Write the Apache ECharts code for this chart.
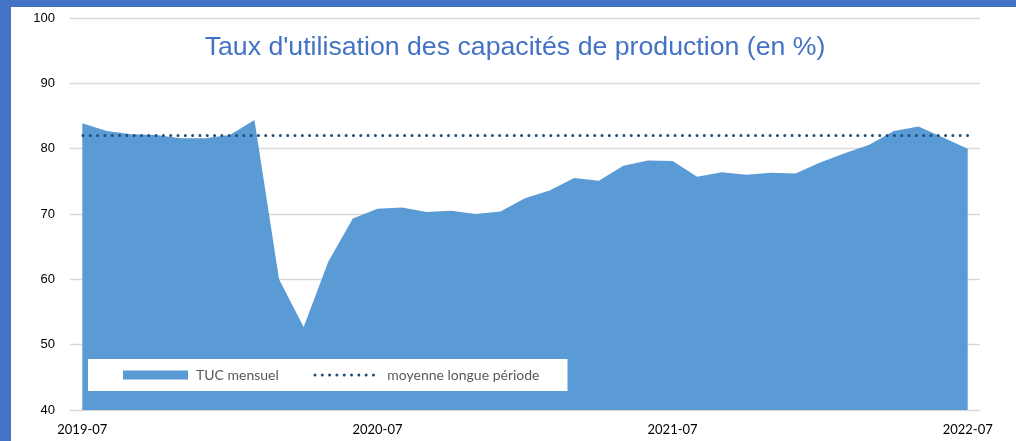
<!DOCTYPE html>
<html><head><meta charset="utf-8">
<script src="https://cdn.jsdelivr.net/npm/echarts@6/dist/echarts.min.js"></script>
<style>
html,body{margin:0;padding:0;background:#fff;}
#c{width:1016px;height:441px;position:absolute;left:0;top:0;}
.bt{position:absolute;left:0;top:0;width:1016px;height:7px;background:#4472C4;}
.bl{position:absolute;left:0;top:0;width:11px;height:441px;background:#4472C4;}
</style></head>
<body>
<div id="c"></div>
<div class="bt"></div><div class="bl"></div>
<script>
const months = ['2019-07','2019-08','2019-09','2019-10','2019-11','2019-12',
 '2020-01','2020-02','2020-03','2020-04','2020-05','2020-06',
 '2020-07','2020-08','2020-09','2020-10','2020-11','2020-12',
 '2021-01','2021-02','2021-03','2021-04','2021-05','2021-06',
 '2021-07','2021-08','2021-09','2021-10','2021-11','2021-12',
 '2022-01','2022-02','2022-03','2022-04','2022-05','2022-06','2022-07'];
const tuc = [83.9,82.7,82.2,82.1,81.6,81.6,82.1,84.4,60.0,52.7,62.7,69.3,
 70.8,71.0,70.3,70.5,70.0,70.4,72.4,73.6,75.5,75.1,77.4,78.2,
 78.1,75.7,76.4,76.0,76.3,76.2,77.9,79.3,80.6,82.7,83.4,81.7,80.0];
const moyenneValue = 82;
const moyenne = months.map(() => moyenneValue);
const titleText = "Taux d'utilisation des capacités de production (en %)";

const chart = echarts.init(document.getElementById('c'));
chart.setOption({
  animation: false,
  backgroundColor: '#fff',
  title: {
    text: titleText, left: 510, top: 29, textAlign: 'center',
    textStyle: {color: '#4472C4', fontSize: 26.7, fontWeight: 'normal', fontFamily: 'Liberation Sans'}
  },
  legend: {
    left: 88, top: 359, padding: [9, 28, 9, 35],
    backgroundColor: '#fff', itemGap: 34, itemWidth: 65, itemHeight: 9,
    textStyle: {color: '#595959', fontSize: 14, fontFamily: 'Lato', padding: [0, 0, 0, 3]},
    data: [{name: 'TUC mensuel', icon: 'rect'},
           {name: 'moyenne longue période', itemStyle: {opacity: 0},
            lineStyle: {width: 3, color: '#1F4E79', type: [0.01, 7.3], cap: 'round'}}]
  },
  grid: {left: 70, right: 36, top: 18, bottom: 31},
  xAxis: {
    type: 'category', data: months, boundaryGap: true,
    axisLine: {lineStyle: {color: '#d9d9d9', width: 1}},
    axisTick: {interval: 11, length: 5, lineStyle: {color: '#d9d9d9'}},
    axisLabel: {interval: 11, color: '#000', fontSize: 13, fontFamily: 'Lato', margin: 13}
  },
  yAxis: {
    type: 'value', min: 40, max: 100, interval: 10,
    axisLine: {show: false}, axisTick: {show: false},
    axisLabel: {color: '#000', fontSize: 13, fontFamily: 'Liberation Sans', margin: 15},
    splitLine: {lineStyle: {color: '#d9d9d9', width: 1.3}}
  },
  series: [
    {name: 'TUC mensuel', type: 'line', data: tuc, symbol: 'none',
     lineStyle: {width: 0, color: '#5B9BD5'}, itemStyle: {color: '#5B9BD5'},
     areaStyle: {color: '#5B9BD5', opacity: 1, origin: 'start'}},
    {name: 'moyenne longue période', type: 'line', data: moyenne, symbol: 'none',
     itemStyle: {color: '#1F4E79'},
     lineStyle: {color: '#1F4E79', width: 3, type: [0.01, 7.3], cap: 'round', dashOffset: -8}}
  ]
});
</script>
</body></html>
